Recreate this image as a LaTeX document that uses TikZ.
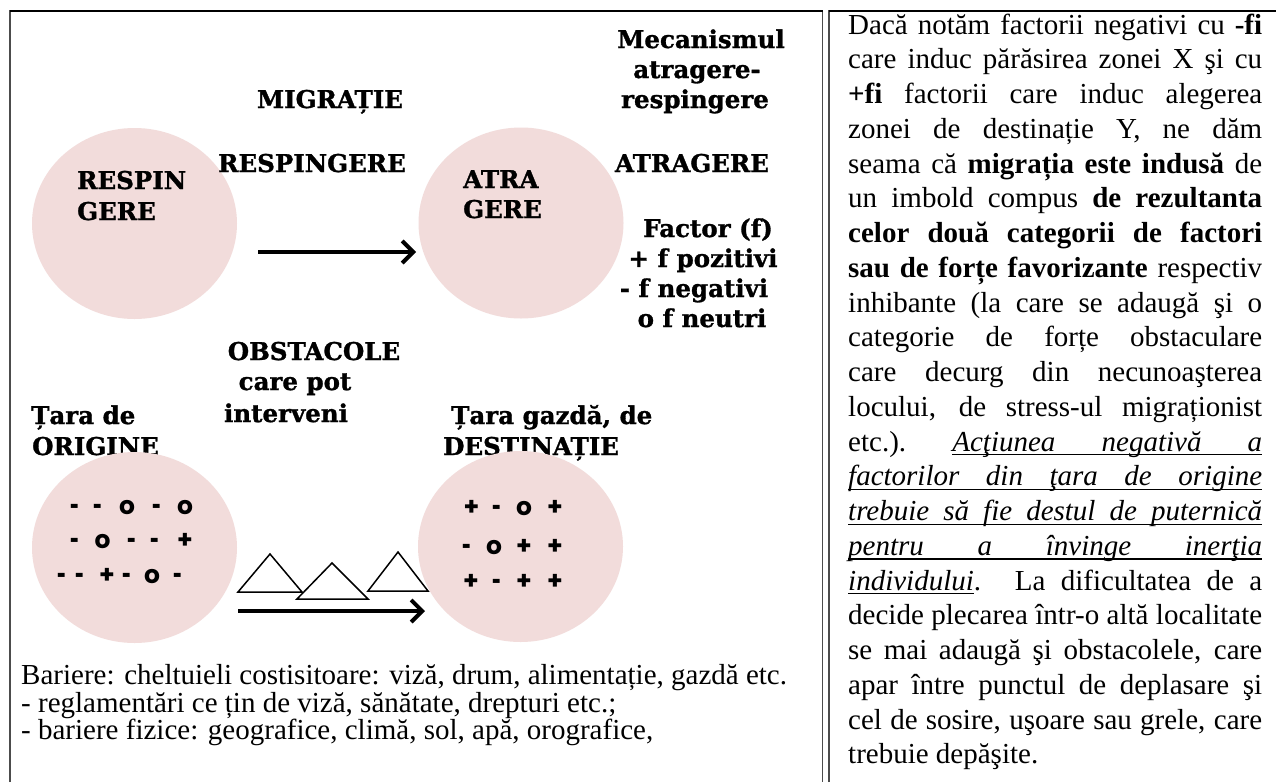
\documentclass[tikz,border=0pt]{standalone}
\usepackage{fontspec}
\usepackage{graphicx}
\setmainfont{Liberation Serif}
\newfontfamily\lbfont{DejaVu Serif}[BoldFeatures={FakeBold=1.2}]
\newfontfamily\symfont{Poppins}
\usetikzlibrary{arrows.meta,shapes.geometric}
\definecolor{blush}{HTML}{F2DCDB}
\newcommand\ulrule{\vrule height-3pt depth4.4pt}
\newcommand\ulword[1]{\setbox0\hbox{#1}\rlap{\ulrule width\wd0}\box0}
\newcommand\ulgap{\leaders\hrule height-3pt depth4.4pt\hskip .25em plus 1fil}
\newcommand\plaingap{\hskip .25em plus 1fil}
\newcommand\ulline[1]{\hbox to\hsize{\rlap{\ulrule width\hsize}#1}}
\newcommand\dsh{\raisebox{-2.5pt}{\scalebox{0.62}[1.15]{-}}}
\tikzset{
  lbl/.style={font=\lbfont\bfseries\fontsize{24.5pt}{29pt}\selectfont, inner sep=0pt, anchor=base},
  lblw/.style={lbl, anchor=base west},
  tok/.style={font=\symfont\bfseries\fontsize{25pt}{25pt}\selectfont, inner sep=0pt, anchor=base},
  blob/.style={ellipse, fill=blush, draw=none, minimum width=205pt, minimum height=191pt, inner sep=0pt},
  flow/.style={line width=4pt, -{Straight Barb[length=11pt,width=22pt]}},
  peak/.style={draw=black, fill=white, line width=1.5pt, line join=miter},
  frame/.style={line width=1.3pt, draw=black!70},
  body/.style={font=\fontsize{29pt}{34.5pt}\selectfont, inner sep=0pt, anchor=base west},
}
\begin{document}
\begin{tikzpicture}[x=1pt,y=-1pt]
\useasboundingbox (0,0) rectangle (1276,782);
\fill[white] (0,0) rectangle (1276,782);
% frames
\draw[frame] (10,782) -- (10,11) -- (822.5,11) -- (822.5,782);
\draw[frame] (829,782) -- (829,11) -- (1276,11);
\draw[black, line width=1.3pt] (10,11) -- (822.5,11) (829,11) -- (1276,11);

% labels partly covered by the lower circles
\node[lblw] (taraO) at (31,424) {Țara de};
\node[lblw] (origO) at (32,455) {ORIGINE};
\node[lblw] (taraD) at (451,424) {Țara gazdă, de};
\node[lblw] (destD) at (443,455) {DESTINAȚIE};

% circles
\node[blob] (push) at (134.5,223.5) {};
\node[blob] (pull) at (521,223) {};
\node[blob] (orig) at (134.5,547.5) {};
\node[blob] (dest) at (520.5,546.5) {};

% top half labels
\node[lbl] (mig) at (330,108) {MIGRAȚIE};
\node[lbl] (respT) at (312,172) {RESPINGERE};
\node[lblw] (resp1) at (77,189) {RESPIN};
\node[lblw] (resp2) at (77,220) {GERE};
\node[lblw] (atra1) at (463,188) {ATRA};
\node[lblw] (atra2) at (463,218) {GERE};
\node[lbl] (mec1) at (701,48) {Mecanismul};
\node[lbl] (mec2) at (697,78) {atragere-};
\node[lbl] (mec3) at (695,108) {respingere};
\node[lbl] (atrT) at (692,172) {ATRAGERE};
\node[lbl] (fac1) at (708,237) {Factor (f)};
\node[lbl] (fac2) at (703,267) {+ f pozitivi};
\node[lbl] (fac3) at (694,297) {- f negativi};
\node[lbl] (fac4) at (702,327) {o f neutri};

% obstacles label
\node[lbl] (obs1) at (314,360) {OBSTACOLE};
\node[lbl] (obs2) at (295,390) {care pot};
\node[lbl] (obs3) at (286,422) {interveni};

% arrows
\coordinate (a1s) at (258,252);
\coordinate (a1e) at (416,252);
\draw[flow] (a1s) -- (a1e);
\coordinate (a2s) at (238,611);
\coordinate (a2e) at (425,611);
\draw[flow] (a2s) -- (a2e);

% obstacle triangles
\draw[peak] (238,592) -- (270,554) -- (302,592) -- cycle;
\draw[peak] (297,599) -- (332,563) -- (368,599) -- cycle;
\draw[peak] (368,591) -- (398,552) -- (428,591) -- cycle;

% factor symbols, origin
\node[tok] (o11) at (75,514) {\dsh};
\node[tok] (o12) at (98,514) {\dsh};
\node[tok] (o13) at (127,514) {o};
\node[tok] (o14) at (157,514) {\dsh};
\node[tok] (o15) at (185,514) {o};
\node[tok] (o21) at (75,548) {\dsh};
\node[tok] (o22) at (102.5,548) {o};
\node[tok] (o23) at (131.5,548) {\dsh};
\node[tok] (o24) at (155,548) {\dsh};
\node[tok] (o25) at (185,548) {+};
\node[tok] (o31) at (62,583) {\dsh};
\node[tok] (o32) at (80,583) {\dsh};
\node[tok] (o33) at (107,583) {+};
\node[tok] (o34) at (127,583) {\dsh};
\node[tok] (o35) at (152,583) {o};
\node[tok] (o36) at (178,583) {\dsh};
% factor symbols, destination
\node[tok] (d11) at (471.5,515) {+};
\node[tok] (d12) at (497,515) {\dsh};
\node[tok] (d13) at (524,515) {o};
\node[tok] (d14) at (555,515) {+};
\node[tok] (d21) at (467,554) {\dsh};
\node[tok] (d22) at (494,554) {o};
\node[tok] (d23) at (524,554) {+};
\node[tok] (d24) at (555,554) {+};
\node[tok] (d31) at (471,589) {+};
\node[tok] (d32) at (497,589) {\dsh};
\node[tok] (d33) at (524,589) {+};
\node[tok] (d34) at (555,589) {+};

% barriers text
\node[body] (bar1) at (21,684) {Bariere: cheltuieli costisitoare: viză, drum, alimentație, gazdă etc.};
\node[body] (bar2) at (21,712) {- reglamentări ce țin de viză, sănătate, drepturi etc.;};
\node[body] (bar3) at (21,739) {- bariere fizice: geografice, climă, sol, apă, orografice,};

% right paragraph
\node[body] (para) at (848,34) {\vtop{\hsize=414pt \baselineskip=34.75pt \lineskiplimit=-30pt \lineskip=0pt
\hbox to\hsize{Dacă notăm factorii negativi cu \textbf{-fi}}
\hbox to\hsize{care induc părăsirea zonei X şi cu}
\hbox to\hsize{\textbf{+fi} factorii care induc alegerea}
\hbox to\hsize{zonei de destinație Y, ne dăm}
\hbox to\hsize{seama că \textbf{migrația este indusă} de}
\hbox to\hsize{un imbold compus \textbf{de rezultanta}}
\hbox to\hsize{\textbf{celor două categorii de factori}}
\hbox to\hsize{\textbf{sau de forțe favorizante} respectiv}
\hbox to\hsize{inhibante (la care se adaugă şi o}
\hbox to\hsize{categorie de forțe obstaculare}
\hbox to\hsize{care decurg din necunoaşterea}
\hbox to\hsize{locului, de stress-ul migraționist}
\hbox to\hsize{etc.).\plaingap\itshape\ulword{Acţiunea}\ulgap\ulword{negativă}\ulgap\ulword{a}}
\ulline{\itshape factorilor din ţara de origine}
\ulline{\itshape trebuie să fie destul de puternică}
\ulline{\itshape pentru a învinge inerţia}
\hbox to\hsize{\ulword{\itshape individului}. La dificultatea de a}
\hbox to\hsize{decide plecarea într-o altă localitate}
\hbox to\hsize{se mai adaugă şi obstacolele, care}
\hbox to\hsize{apar între punctul de deplasare şi}
\hbox to\hsize{cel de sosire, uşoare sau grele, care}
\hbox{trebuie depăşite.}}};
\end{tikzpicture}
\end{document}
